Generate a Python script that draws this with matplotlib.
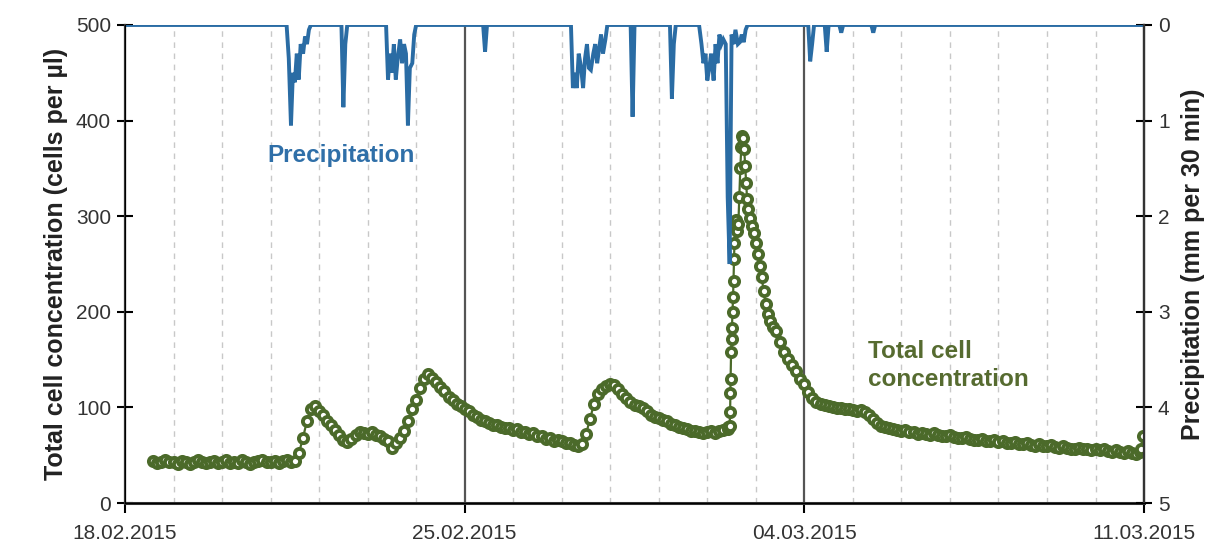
# ==========================================
# plot.py
# Total cell concentration vs precipitation
# ==========================================

import numpy as np
import pandas as pd
import matplotlib
matplotlib.use("Agg")
import matplotlib.pyplot as plt
import matplotlib.dates as mdates

plt.rcParams["font.family"] = ["Liberation Sans", "DejaVu Sans"]

# ==========================================
# DATA
# ==========================================

START = pd.Timestamp("2015-02-18")

# 2-hourly cell counts, 18.02 14:00 -> 02.03 10:00 (one row per day)
cells_a = [
    44, 42, 43, 45, 43,
    43, 41, 44, 43, 41, 43, 45, 43, 42, 43, 44, 42,
    43, 45, 42, 43, 42, 45, 43, 41, 43, 44, 45, 43,
    43, 44, 42, 44, 45, 43, 44, 52, 68, 86, 98, 101,
    96, 92, 86, 82, 76, 71, 66, 64, 67, 71, 74, 73,
    72, 74, 71, 70, 67, 65, 58, 63, 68, 75, 86, 98,
    108, 120, 130, 135, 131, 127, 121, 117, 111, 108, 104, 102,
    98, 96, 92, 90, 87, 86, 84, 82, 82, 80, 78, 78,
    76, 77, 74, 74, 72, 73, 70, 70, 67, 68, 65, 66,
    65, 63, 63, 61, 60, 62, 72, 88, 104, 114, 119, 122,
    124, 123, 119, 114, 110, 106, 103, 101, 99, 96, 92, 90,
    89, 87, 86, 83, 82, 79, 78, 77, 75, 75, 74, 73,
    74, 75, 73, 75, 76, 77,
]

# rain event 02.03 -> 03.03, higher resolution (days after 18.02)
event_days = [
    12.43, 12.46, 12.47, 12.475, 12.48, 12.49, 12.50, 12.51, 12.52,
    12.53, 12.54, 12.55, 12.56, 12.58, 12.60, 12.62, 12.64, 12.66, 12.68,
    12.70, 12.72, 12.74, 12.76, 12.78, 12.80, 12.82, 12.84, 12.88, 12.92,
    12.96, 13.00, 13.04, 13.08, 13.12, 13.16, 13.20, 13.25, 13.30, 13.36,
]
event_cells = [
    79, 81, 95, 115, 130, 158, 172, 183, 200,
    215, 232, 255, 272, 290, 296, 285, 292, 320, 350,
    372, 384, 382, 370, 352, 335, 318, 308, 298, 290,
    282, 272, 260, 248, 236, 222, 208, 198, 190, 184,
]

# 2-hourly cell counts, 03.03 10:00 -> 10.03 22:00 (one row per day)
cells_b = [
    180, 168, 158, 151, 144, 138, 130,
    124, 116, 110, 106, 104, 103, 101, 100, 99, 99, 98, 98,
    97, 96, 97, 95, 92, 88, 84, 81, 79, 78, 77, 76,
    75, 76, 74, 74, 72, 73, 72, 71, 73, 71, 70, 70,
    71, 69, 68, 68, 69, 67, 66, 66, 67, 65, 65, 66,
    64, 65, 63, 63, 64, 62, 62, 63, 61, 60, 62, 60,
    60, 61, 59, 58, 60, 58, 57, 57, 58, 56, 57, 55,
    56, 55, 56, 54, 53, 55, 53, 52, 54, 52, 51, 53,
]

tail_days = [20.94, 20.97]
tail_cells = [57, 70]

# precipitation (mm per 30 min), days after 18.02
precip_days = [
    0.0,
    3.33, 3.375, 3.42, 3.46, 3.50, 3.54, 3.58, 3.62, 3.67, 3.71, 3.75, 3.79, 3.83,
    4.46, 4.50, 4.54, 4.58,
    5.38, 5.42, 5.46, 5.50, 5.54, 5.58, 5.62, 5.67, 5.71, 5.75, 5.79, 5.83,
    5.87, 5.92, 5.96, 6.00,
    7.38, 7.42, 7.46,
    9.19, 9.23, 9.27, 9.31, 9.35, 9.40, 9.44, 9.48, 9.52, 9.56, 9.60, 9.65,
    9.69, 9.73, 9.77, 9.81, 9.85, 9.90, 9.94,
    10.42, 10.46, 10.50,
    11.23, 11.27, 11.31, 11.35,
    11.83, 11.88, 11.92, 11.96, 12.00, 12.04, 12.08, 12.13, 12.17, 12.21,
    12.25, 12.29, 12.33, 12.38, 12.42, 12.46, 12.50, 12.54, 12.58, 12.63,
    12.67, 12.71, 12.75, 12.79, 12.83,
    14.08, 14.12, 14.16, 14.20,
    14.42, 14.46, 14.50,
    14.72, 14.76, 14.80,
    15.38, 15.42, 15.46,
    21.0,
]
precip_mm = [
    0.0,
    0.0, 0.35, 1.05, 0.5, 0.6, 0.3, 0.57, 0.2, 0.3, 0.12, 0.2, 0.05, 0.0,
    0.0, 0.86, 0.2, 0.0,
    0.0, 0.57, 0.3, 0.5, 0.2, 0.57, 0.35, 0.15, 0.4, 0.2, 0.3, 1.05,
    0.45, 0.4, 0.1, 0.0,
    0.0, 0.28, 0.0,
    0.0, 0.66, 0.5, 0.66, 0.3, 0.45, 0.66, 0.35, 0.2, 0.45, 0.47, 0.3,
    0.2, 0.4, 0.25, 0.1, 0.3, 0.15, 0.0,
    0.0, 0.96, 0.0,
    0.0, 0.77, 0.2, 0.0,
    0.0, 0.2, 0.4, 0.3, 0.58, 0.45, 0.3, 0.58, 0.2, 0.4,
    0.1, 0.2, 0.15, 0.2, 1.8, 2.5, 0.1, 0.2, 0.05, 0.2,
    0.18, 0.1, 0.18, 0.05, 0.0,
    0.0, 0.38, 0.2, 0.0,
    0.0, 0.28, 0.0,
    0.0, 0.08, 0.0,
    0.0, 0.08, 0.0,
    0.0,
]

date_ticks = ["18.02.2015", "25.02.2015", "04.03.2015", "11.03.2015"]

# ==========================================
# BUILD TIME AXIS
# ==========================================

time_a = pd.date_range(START + pd.Timedelta(hours=14), periods=len(cells_a), freq="2h")
time_b = pd.date_range(START + pd.Timedelta(days=13, hours=10), periods=len(cells_b), freq="2h")
time_event = START + pd.to_timedelta(event_days, unit="D")
time_tail = START + pd.to_timedelta(tail_days, unit="D")

cell_time = np.concatenate([time_a.values, time_event.values, time_b.values, time_tail.values])
cell_vals = np.array(cells_a + event_cells + cells_b + tail_cells, dtype=float)

precip_time = START + pd.to_timedelta(precip_days, unit="D")

GREEN = "#4b6a2a"
BLUE = "#2a6ca4"

# ==========================================
# FIGURE
# ==========================================

fig = plt.figure(figsize=(12.22, 5.47), dpi=100)
ax = fig.add_axes([0.1023, 0.0804, 0.8339, 0.8739])

end = START + pd.Timedelta(days=21)
ax.set_xlim(START, end)
ax.set_ylim(0, 500)

# daily dashed grid + solid week lines
ax.xaxis.set_minor_locator(mdates.DayLocator())
ax.grid(which="minor", axis="x", color="#c8c8c8", linestyle=(0, (4, 4)), linewidth=1.0)
for d in date_ticks[1:3]:
    ax.axvline(pd.to_datetime(d, format="%d.%m.%Y"), color="#555555", linewidth=1.6, zorder=1)

ax.plot(
    cell_time, cell_vals,
    color=GREEN, linewidth=1.6,
    marker="o", markersize=6.6,
    markerfacecolor="white", markeredgecolor=GREEN, markeredgewidth=2.8,
    zorder=3,
)

ax.set_xticks(pd.to_datetime(date_ticks, format="%d.%m.%Y"))
ax.set_xticklabels(date_ticks)
ax.set_yticks([0, 100, 200, 300, 400, 500])
ax.tick_params(axis="x", which="minor", length=0)
ax.tick_params(axis="x", which="major", direction="out", length=7, width=1.5,
               labelsize=15, labelcolor="#333333", pad=8)
ax.tick_params(axis="y", direction="inout", length=12, width=1.5,
               labelsize=15, labelcolor="#333333", pad=4)

ax.set_ylabel("Total cell concentration (cells per µl)", fontsize=18,
              fontweight="bold", color="#222222", labelpad=6)

for side in ["left", "right", "bottom"]:
    ax.spines[side].set_color("#333333")
    ax.spines[side].set_linewidth(1.6)
ax.spines["bottom"].set_linewidth(2.2)

# ==========================================
# PRECIPITATION (RIGHT AXIS, INVERTED)
# ==========================================

ax2 = ax.twinx()
ax2.set_ylim(5, 0)
ax2.plot(precip_time, precip_mm, color=BLUE, linewidth=2.8, solid_joinstyle="miter", zorder=2)
ax2.set_yticks([0, 1, 2, 3, 4, 5])
ax2.tick_params(axis="y", direction="inout", length=12, width=1.5,
                labelsize=15, labelcolor="#333333", pad=4)
ax2.set_ylabel("Precipitation (mm per 30 min)", fontsize=18,
               fontweight="bold", color="#222222", labelpad=8)
ax2.spines["right"].set_color("#333333")
ax2.spines["right"].set_linewidth(1.6)
ax2.spines["top"].set_visible(False)
ax.spines["top"].set_visible(False)

# ==========================================
# LABELS
# ==========================================

ax.text(START + pd.Timedelta(days=2.93), 363, "Precipitation", fontsize=17.5,
        fontweight="bold", color="#2f6fa8", va="center", ha="left")
ax.text(START + pd.Timedelta(days=15.31), 144, "Total cell\nconcentration", fontsize=17.5,
        fontweight="bold", color="#566b30", va="center", ha="left", linespacing=1.3)

fig.savefig("out.png", dpi=100)
